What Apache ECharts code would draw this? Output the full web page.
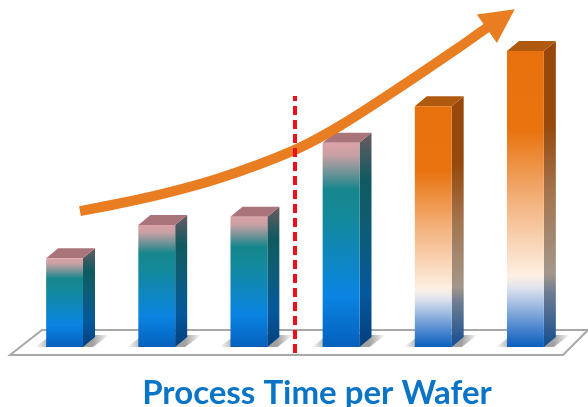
<!DOCTYPE html>
<html>
<head>
<meta charset="utf-8">
<style>html,body{margin:0;padding:0;background:#fff}#c{width:588px;height:407px}</style>
<script src="https://cdn.jsdelivr.net/npm/echarts@6/dist/echarts.min.js"></script>
</head>
<body>
<div id="c"></div>
<script>
// Relative process time per wafer, newest generation = 100
const generations = ['1', '2', '3', '4', '5', '6'];
const processTime = [30, 41.2, 44, 69, 81.3, 100];
const barKinds = ['teal', 'teal', 'teal', 'teal', 'orange', 'orange'];

// Trend arrow as [generation position, relative time]
const trendX = [0.667, 1.426, 2.185, 3.0, 3.487, 4.03, 4.755, 5.08, 5.233];
const trendY = [45.9, 50.7, 57.1, 66.6, 74.7, 85.5, 100.7, 107.8, 110.8];

// Vertical divider between generations 3 and 4
const dividerX = [3, 3];
const dividerY = [-2, 84.8];

const DEPTH_X = 12, DEPTH_Y = 10;

const grad = (stops, x2, y2) => ({
  type: 'linear', x: 0, y: 0, x2: x2, y2: y2,
  colorStops: stops.map(s => ({ offset: s[0], color: s[1] }))
});

const palette = {
  teal: {
    front: [[0, '#dba2a6'], [0.06, '#c9a0a4'], [0.23, '#16868c'], [0.36, '#13899a'], [0.75, '#0a84e2'], [1, '#0560bd']],
    side: [[0, '#6b5a60'], [0.22, '#0f5a60'], [0.4, '#0f5c70'], [0.75, '#05589c'], [1, '#043f7c']],
    top: '#a9757a'
  },
  orange: {
    front: [[0, '#e8710e'], [0.27, '#e8730f'], [0.5, '#f3b07a'], [0.76, '#fdf0e3'], [0.8, '#dfe3ee'], [0.95, '#3c7ccb'], [1, '#0a60bf']],
    side: [[0, '#97480a'], [0.27, '#96490a'], [0.5, '#a3754f'], [0.76, '#a3978b'], [0.82, '#6f7d92'], [1, '#124c8f']],
    top: '#b05a10'
  }
};

function renderBar(params, api) {
  const idx = api.value(0);
  const base = api.coord([idx, 0]);
  const head = api.coord([idx, api.value(1)]);
  const w = api.size([1, 0])[0] * 0.4;
  const l = base[0] - w / 2, r = base[0] + w / 2, t = head[1], b = base[1];
  const kind = palette[barKinds[idx]];
  return {
    type: 'group',
    children: [
      {
        type: 'polygon',
        shape: { points: [[l - 11, b], [l + 5, b - 12], [r + 26, b - 12], [r + 10, b]] },
        style: {
          fill: grad([[0, 'rgba(110,110,110,0)'], [0.22, 'rgba(110,110,110,0.65)'], [0.78, 'rgba(110,110,110,0.65)'], [1, 'rgba(110,110,110,0)']], 1, 0)
        }
      },
      {
        type: 'polygon',
        shape: { points: [[r, t], [r + DEPTH_X, t - DEPTH_Y], [r + DEPTH_X, b - DEPTH_Y], [r, b]] },
        style: { fill: grad(kind.side, 0, 1) }
      },
      {
        type: 'polygon',
        shape: { points: [[l, t], [l + DEPTH_X, t - DEPTH_Y], [r + DEPTH_X, t - DEPTH_Y], [r, t]] },
        style: { fill: kind.top }
      },
      {
        type: 'rect',
        shape: { x: l, y: t, width: w, height: b - t },
        style: { fill: grad(kind.front, 0, 1) }
      }
    ]
  };
}

const trendData = trendX.map((x, i) => {
  const last = i === trendX.length - 1;
  return {
    value: [x, trendY[i]],
    symbol: last ? 'triangle' : 'none',
    symbolSize: last ? [35, 34] : 0,
    symbolRotate: last ? -55 : 0
  };
});

const chart = echarts.init(document.getElementById('c'), null, { renderer: 'canvas' });
chart.setOption({
  animation: false,
  backgroundColor: '#ffffff',
  title: {
    text: 'Process Time per Wafer',
    left: 312,
    top: 372,
    textAlign: 'center',
    textStyle: { fontFamily: 'Lato', fontWeight: 'bold', fontSize: 33, color: '#0a74c6' }
  },
  grid: { left: 18.5, right: 16.5, top: 6.6, bottom: 30.4 },
  xAxis: [
    { type: 'category', data: generations, show: false },
    { type: 'value', min: 0, max: 6, show: false }
  ],
  yAxis: { type: 'value', min: -10, max: 115, show: false },
  graphic: [{
    type: 'polygon',
    z: 0,
    shape: { points: [[10, 355], [42, 330], [588, 330], [563, 355]] },
    style: { fill: '#ffffff', stroke: '#a8a8a8', lineWidth: 2 }
  }],
  series: [
    {
      type: 'custom',
      z: 2,
      clip: false,
      encode: { x: 0, y: 1 },
      data: processTime.map((v, i) => [i, v]),
      renderItem: renderBar
    },
    {
      type: 'line',
      z: 3,
      xAxisIndex: 1,
      clip: false,
      smooth: 0.3,
      showSymbol: true,
      showAllSymbol: true,
      lineStyle: { color: '#e87d22', width: 10 },
      itemStyle: { color: '#e87d22' },
      data: trendData
    },
    {
      type: 'line',
      z: 4,
      xAxisIndex: 1,
      clip: false,
      symbol: 'none',
      lineStyle: { color: '#f0101c', width: 4, type: [9, 5] },
      data: dividerX.map((x, i) => [x, dividerY[i]])
    }
  ]
});
</script>
</body>
</html>
